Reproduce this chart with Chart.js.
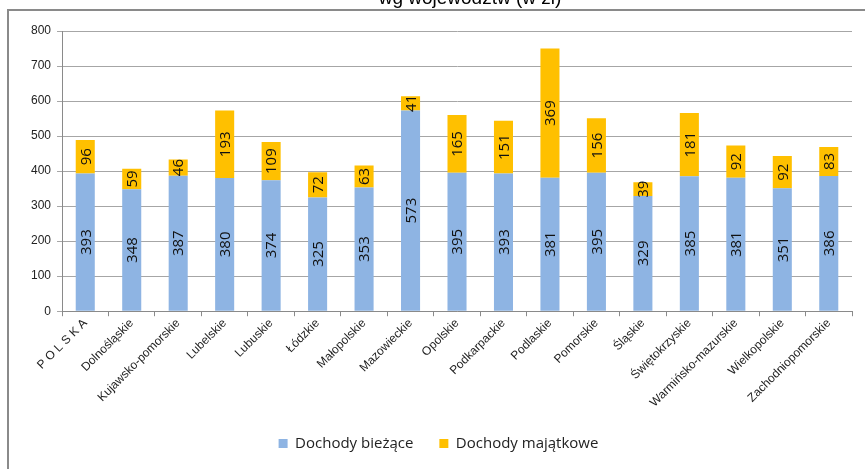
<!DOCTYPE html>
<html>
<head>
<meta charset="utf-8">
<script src="https://cdn.jsdelivr.net/npm/chart.js@4/dist/chart.umd.min.js"></script>
<style>
  body { margin: 0; background: #fff; }
  #ramka { position: absolute; left: 7px; top: 9px; width: 900px; height: 500px;
           border-left: 2px solid #8a8a8a; border-top: 2px solid #8a8a8a; }
  #wykres { position: absolute; left: 0; top: 0; }
</style>
</head>
<body>
<div id="ramka"></div>
<canvas id="wykres" width="865" height="469"></canvas>
<script>
// dane z wykresu
const wojewodztwa = ["P O L S K A", "Dolnośląskie", "Kujawsko-pomorskie", "Lubelskie", "Lubuskie",
  "Łódzkie", "Małopolskie", "Mazowieckie", "Opolskie", "Podkarpackie", "Podlaskie",
  "Pomorskie", "Śląskie", "Świętokrzyskie", "Warmińsko-mazurskie", "Wielkopolskie",
  "Zachodniopomorskie"];
const dochodyBiezace = [393, 348, 387, 380, 374, 325, 353, 573, 395, 393, 381, 395, 329, 385, 381, 351, 386];
const dochodyMajatkowe = [96, 59, 46, 193, 109, 72, 63, 41, 165, 151, 369, 156, 39, 181, 92, 92, 83];
const tytul = "wg województw (w zł)";

// etykiety pionowe wewnatrz slupkow
const etykiety = {
  id: "etykiety",
  afterDatasetsDraw(chart) {
    const ctx = chart.ctx;
    ctx.save();
    ctx.font = "15px 'Open Sans', sans-serif";
    ctx.fillStyle = "#111";
    ctx.textAlign = "center";
    ctx.textBaseline = "middle";
    chart.data.datasets.forEach((ds, i) => {
      chart.getDatasetMeta(i).data.forEach((bar, j) => {
        const y = (bar.y + bar.base) / 2;
        ctx.save();
        ctx.translate(bar.x + 1, y);
        ctx.rotate(-Math.PI / 2);
        ctx.fillText(ds.data[j], 0, 0);
        ctx.restore();
      });
    });
    ctx.restore();
  }
};

// tytul przyciety u gory
const naglowek = {
  id: "naglowek",
  afterDraw(chart) {
    const ctx = chart.ctx;
    ctx.save();
    ctx.font = "19px 'Liberation Sans', Arial, sans-serif";
    ctx.fillStyle = "#000";
    ctx.textAlign = "center";
    ctx.textBaseline = "alphabetic";
    ctx.fillText(tytul, 470, 4);
    ctx.restore();
  }
};

new Chart(document.getElementById("wykres"), {
  type: "bar",
  data: {
    labels: wojewodztwa,
    datasets: [
      { label: "Dochody bieżące", data: dochodyBiezace, backgroundColor: "#8EB4E3",
        categoryPercentage: 1, barPercentage: 0.41 },
      { label: "Dochody majątkowe", data: dochodyMajatkowe, backgroundColor: "#FFC000",
        categoryPercentage: 1, barPercentage: 0.41 }
    ]
  },
  options: {
    responsive: false,
    animation: false,
    layout: { padding: { left: 25, right: 13, top: 31, bottom: 8 } },
    plugins: {
      legend: {
        position: "bottom",
        labels: { boxWidth: 9, boxHeight: 9, padding: 26, color: "#222",
          font: { family: "'Open Sans', sans-serif", size: 15 } }
      },
      tooltip: { enabled: false }
    },
    scales: {
      x: {
        stacked: true,
        grid: { drawOnChartArea: false, color: "#8a8a8a", tickLength: 5 },
        border: { color: "#8a8a8a" },
        ticks: { minRotation: 45, maxRotation: 45, color: "#222", padding: 0,
          font: { family: "'Liberation Sans', Arial, sans-serif", size: 12 } }
      },
      y: {
        stacked: true,
        min: 0, max: 800,
        ticks: { stepSize: 100, color: "#222", padding: 6,
          font: { family: "'Liberation Sans', Arial, sans-serif", size: 12 } },
        grid: { color: "#a6a6a6", tickLength: 5 },
        border: { color: "#8a8a8a" }
      }
    }
  },
  plugins: [etykiety, naglowek]
});
</script>
</body>
</html>
